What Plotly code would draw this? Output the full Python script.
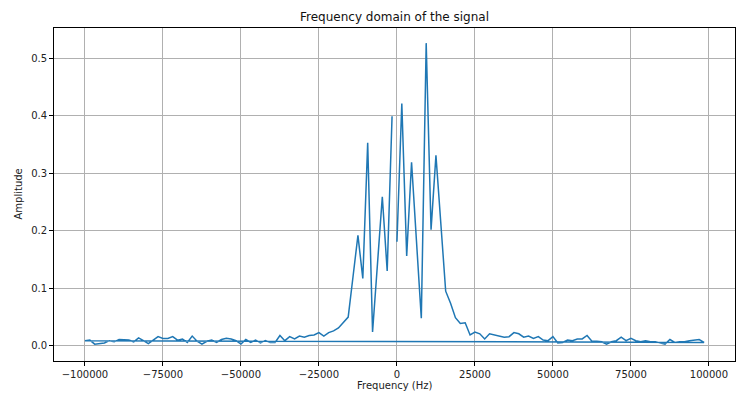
import numpy as np
import plotly.graph_objects as go

# FFT bins: N=128 samples, fs=200 kHz (fftfreq order: 0..+max, then -max..-df)
n_samples = 128
sample_rate = 200000.0
freqs = np.fft.fftfreq(n_samples, d=1.0 / sample_rate)

# amplitudes for positive bins k = 0 .. 63
amp_pos = [
    0.181, 0.421, 0.156, 0.319, 0.183, 0.048, 0.526, 0.202,
    0.331, 0.212, 0.095, 0.074, 0.049, 0.039, 0.040, 0.019,
    0.024, 0.021, 0.012, 0.021, 0.019, 0.016, 0.015, 0.016,
    0.023, 0.021, 0.015, 0.017, 0.013, 0.016, 0.010, 0.009,
    0.016, 0.005, 0.006, 0.010, 0.009, 0.012, 0.012, 0.018,
    0.008, 0.008, 0.007, 0.003, 0.007, 0.009, 0.015, 0.009,
    0.013, 0.009, 0.007, 0.009, 0.007, 0.007, 0.005, 0.003,
    0.011, 0.006, 0.007, 0.007, 0.009, 0.010, 0.011, 0.006,
]
# amplitudes for negative bins k = -64 .. -1
amp_neg = [
    0.009, 0.010, 0.003, 0.004, 0.005, 0.009, 0.007, 0.011,
    0.010, 0.010, 0.007, 0.014, 0.009, 0.004, 0.010, 0.016,
    0.013, 0.013, 0.016, 0.010, 0.012, 0.006, 0.017, 0.008,
    0.003, 0.008, 0.010, 0.006, 0.011, 0.013, 0.012, 0.009,
    0.003, 0.011, 0.006, 0.010, 0.005, 0.009, 0.006, 0.006,
    0.018, 0.009, 0.016, 0.012, 0.017, 0.015, 0.018, 0.019,
    0.023, 0.017, 0.023, 0.026, 0.031, 0.040, 0.050, 0.121,
    0.192, 0.117, 0.353, 0.024, 0.135, 0.259, 0.130, 0.399,
]
amplitudes = amp_pos + amp_neg

x_ticks = [-100000, -75000, -50000, -25000, 0, 25000, 50000, 75000, 100000]
y_ticks = [0.0, 0.1, 0.2, 0.3, 0.4, 0.5]

FONT = "DejaVu Sans"

fig = go.Figure()
fig.add_trace(go.Scatter(
    x=freqs, y=amplitudes, mode="lines",
    line=dict(color="#1f77b4", width=1.5),
    showlegend=False, hoverinfo="x+y",
))

axis_common = dict(
    showgrid=True, gridcolor="#b0b0b0", gridwidth=0.8,
    zeroline=False, showline=True, linecolor="black", linewidth=0.8,
    mirror=True, ticks="outside", ticklen=4, tickwidth=0.8, tickcolor="black",
    tickfont=dict(family=FONT, size=10, color="#222"),
)

fig.update_layout(
    width=751, height=393,
    margin=dict(l=54, r=16, t=28, b=32),
    paper_bgcolor="white", plot_bgcolor="white",
    font=dict(family=FONT, color="#222"),
    title=dict(text="Frequency domain of the signal", x=0.5, xref="paper",
               y=1 - 17 / 393, yref="container", yanchor="middle",
               font=dict(family=FONT, size=12, color="#111")),
    xaxis=dict(range=[-109922, 108359], tickmode="array", tickvals=x_ticks,
               tickformat="d", **axis_common),
    yaxis=dict(range=[-0.0263, 0.5523], tickmode="array", tickvals=y_ticks,
               tickformat=".1f", **axis_common),
    annotations=[
        dict(text="Frequency (Hz)", xref="paper", yref="paper", x=0.5,
             y=-(385 - 361) / 333, xanchor="center", yanchor="middle",
             showarrow=False, font=dict(family=FONT, size=10, color="#222")),
        dict(text="Amplitude", xref="paper", yref="paper",
             x=(18 - 54) / 681, y=0.5, xanchor="center", yanchor="middle",
             textangle=-90, showarrow=False,
             font=dict(family=FONT, size=10, color="#222")),
    ],
)

fig.write_html(
    "out.html",
    config={"displayModeBar": False},
    post_script="document.body.style.margin='0';document.body.style.padding='0';",
)
